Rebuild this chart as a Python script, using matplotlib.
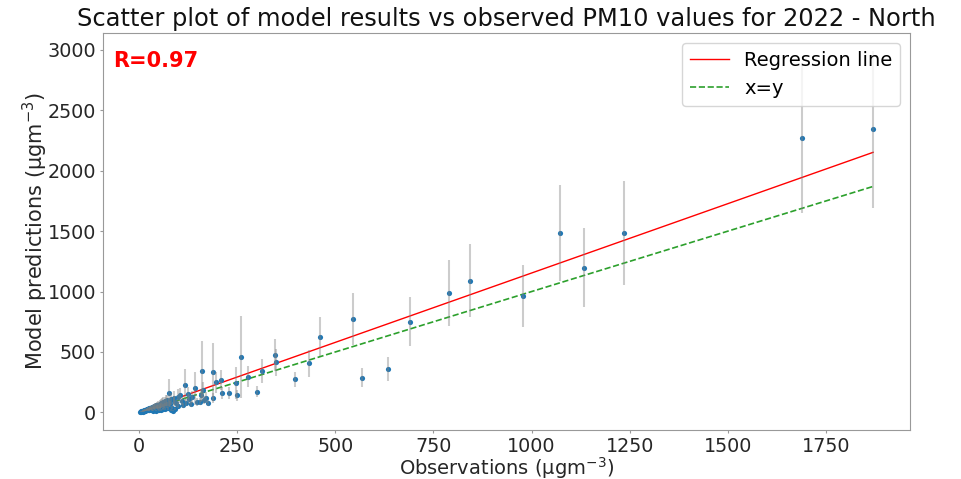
import numpy as np
import matplotlib
matplotlib.use("Agg")
import matplotlib.pyplot as plt

# ---- data ----
obs = [3, 5, 6, 8, 9, 10, 11, 12, 13, 14, 15, 16, 17, 18, 19, 20, 21, 22, 23, 24,
       25, 26, 27, 28, 29, 30, 31, 32, 33, 34, 35, 36, 37, 38, 39, 40, 41, 42, 43, 44,
       45, 46, 47, 48, 49, 50, 51, 52, 53, 54, 55, 56, 57, 58, 60, 61, 62, 63, 65, 66,
       67, 68, 70, 72, 73, 75, 76, 78, 80, 82, 84, 86, 88, 90, 92, 95, 98, 100,
       105, 110, 112, 118, 120, 125, 128, 132, 136, 143, 148, 155, 158, 161, 164, 165,
       170, 175, 187, 189, 196, 208, 212, 229, 248, 250, 259, 278, 300, 312, 346, 349,
       397, 434, 461, 546, 567, 635, 690, 789, 842, 979, 1072, 1133, 1235, 1689, 1870]
pred = [5, 8, 4, 10, 12, 7, 15, 10, 18, 12, 20, 14, 22, 16, 25, 18, 28, 20, 30, 22,
        32, 18, 35, 25, 38, 28, 40, 22, 42, 30, 45, 12, 48, 35, 50, 30, 55, 40, 15, 58,
        42, 60, 35, 65, 45, 20, 62, 50, 70, 40, 75, 55, 18, 80, 50, 85, 25, 70, 90, 55,
        30, 95, 60, 100, 35, 85, 162, 70, 20, 110, 40, 13, 95, 120, 30, 75, 130, 55,
        140, 95, 60, 227, 80, 150, 110, 70, 130, 200, 85, 88, 140, 342, 185, 102,
        120, 75, 336, 121, 248, 267, 162, 162, 245, 143, 460, 295, 171, 342, 474, 414,
        273, 405, 626, 772, 287, 356, 750, 990, 1090, 963, 1482, 1197, 1484, 2268, 2343]
err = [2, 3, 2, 4, 4, 3, 5, 4, 6, 4, 7, 5, 8, 6, 9, 6, 10, 7, 11, 8,
       12, 6, 13, 9, 14, 10, 15, 8, 16, 11, 18, 4, 18, 13, 20, 10, 22, 15, 5, 22,
       16, 25, 12, 28, 18, 6, 25, 20, 30, 14, 35, 22, 6, 35, 20, 40, 8, 30, 40, 20,
       10, 45, 25, 45, 12, 35, 115, 28, 7, 50, 14, 5, 40, 55, 10, 30, 60, 20,
       60, 35, 20, 130, 30, 60, 40, 25, 50, 137, 30, 30, 55, 250, 70, 35,
       45, 25, 240, 40, 90, 83, 50, 50, 132, 45, 340, 89, 47, 100, 130, 114,
       62, 110, 160, 215, 78, 100, 204, 275, 302, 260, 396, 327, 428, 620, 650]

reg_slope = 1.148
reg_intercept = 5.5
r_value = "R=0.97"

title = "Scatter plot of model results vs observed PM10 values for 2022 - North"
xlabel = "Observations (µgm$^{-3}$)"
ylabel = "Model predictions (µgm$^{-3}$)"
xticks = [0, 250, 500, 750, 1000, 1250, 1500, 1750]
yticks = [0, 500, 1000, 1500, 2000, 2500, 3000]

obs = np.array(obs, dtype=float)
pred = np.array(pred, dtype=float)
err = np.array(err, dtype=float)

fig = plt.figure(figsize=(9.61, 4.79), dpi=100)
ax = fig.add_axes([103 / 961, 1 - 430 / 479, 807 / 961, 397 / 479])

xs = np.array([obs.min(), obs.max()])
ax.plot(xs, reg_slope * xs + reg_intercept, color="red", lw=1.0, label="Regression line", zorder=1)
ax.plot(xs, xs, color="tab:green", lw=1.2, ls="--", label="x=y", zorder=1)

ax.scatter(obs, pred, s=14, color="tab:blue", zorder=2, linewidths=0)
ax.errorbar(obs, pred, yerr=err, fmt="none", ecolor="gray", alpha=0.4, elinewidth=1.5, zorder=3)

ax.set_xlim(-92, 1964)
ax.set_ylim(-146, 3140)
ax.set_xticks(xticks)
ax.set_yticks(yticks)

ax.set_title(title, fontsize=17.4, color="#111111", pad=5)
ax.set_xlabel(xlabel, fontsize=14, color="#262626", labelpad=-0.8)
ax.set_ylabel(ylabel, fontsize=15, color="#262626", labelpad=-1.5)
ax.tick_params(labelsize=13.8, colors="0.6", labelcolor="#262626", length=2.5, pad=2.5)
for sp in ax.spines.values():
    sp.set_color("0.6")

ax.text(0.012, 0.955, r_value, transform=ax.transAxes, color="red",
        fontsize=15, fontweight="bold", va="top", ha="left")

ax.legend(loc="upper right", fontsize=14)

fig.savefig("out.png", dpi=100)
